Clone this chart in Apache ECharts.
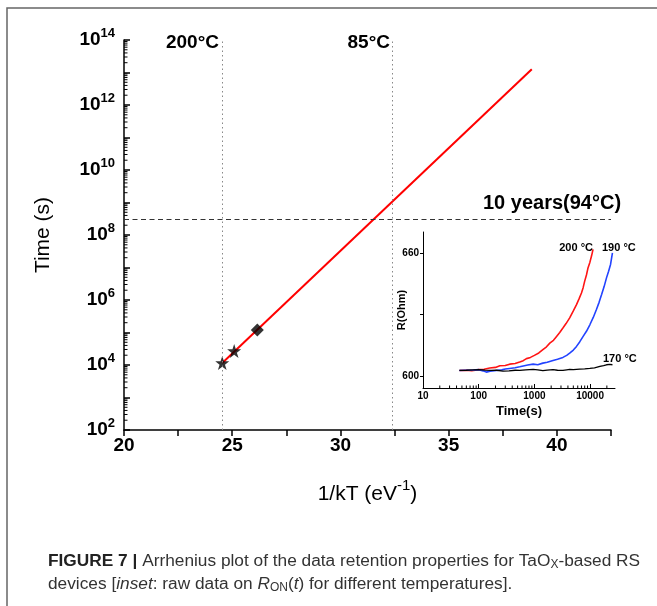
<!DOCTYPE html>
<html>
<head>
<meta charset="utf-8">
<script src="https://cdn.jsdelivr.net/npm/echarts@6/dist/echarts.min.js"></script>
<style>
html,body{margin:0;padding:0;background:#fff;}
#c{width:657px;height:606px;}
</style>
</head>
<body>
<div id="c"></div>
<script>
// ---- main Arrhenius plot data ----
const invKT = [24.54, 25.09, 26.16];          // 1/kT (eV^-1) of measured points
const retentionTime = [1.15e4, 2.7e4, 1.2e5];  // time (s)
const pointShapes = ['star', 'star', 'diamond'];
const fitInvKT = [24.54, 38.84];
const fitTime = [1.15e4, 1.26e13];
const tempLineX = [24.53, 32.40];              // 200°C, 85°C
const tempLineLabels = ['200°C', '85°C'];
const tenYearsSeconds = 3.15e8;
const xLabelValues = [20, 25, 30, 35, 40];
const yLabelValues = [1e2, 1e4, 1e6, 1e8, 1e10, 1e12, 1e14];
const yMajorTickValues = [1e2,1e3,1e4,1e5,1e6,1e7,1e8,1e9,1e10,1e11,1e12,1e13,1e14];

// ---- inset: R(t) raw data ----
const t200 = [45,60,75,100,125,158,200,240,300,360,450,545,630,720,850,1000,1200,1420,1650,1890,2200,2500,2850,3250,3700,4300,5000,5700,6300,7000,7500,8000,8600,9200,9900,10600,11300];
const r200 = [602.6,602.7,602.5,603.0,603.2,603.8,604.1,604.9,605.0,605.7,606.0,606.7,607.4,608.4,609.0,610.0,611.2,612.8,614.2,616.0,617.4,619.3,621.2,623.4,625.6,628.4,631.8,634.9,637.6,640.6,643.2,646.4,649.4,653.0,655.6,658.7,662.0];
const t190 = [45,60,80,100,120,137,160,208,260,300,360,450,545,630,760,950,1150,1420,1700,2160,2600,3250,3800,4300,5000,5700,6500,7500,8600,9900,11400,13000,14500,16100,17800,19700,21500,23300,25200];
const r190 = [602.6,602.7,602.8,603.0,602.4,601.8,602.2,602.6,602.9,603.3,603.6,603.9,604.4,604.8,605.3,605.7,605.4,606.2,606.6,607.5,608.1,609.0,610.0,611.1,612.6,614.4,616.6,619.3,621.8,625.0,628.6,632.5,636.0,639.8,643.6,648.0,651.3,654.6,660.3];
const t170 = [45,60,80,100,130,170,210,273,350,450,545,700,950,1150,1420,1700,2160,2600,3250,3800,4300,5000,6500,8000,9900,12000,15000,17500,19700,22500,25200];
const r170 = [602.6,602.7,602.9,603.0,602.8,602.6,602.7,602.3,602.4,602.7,602.6,602.9,603.1,602.9,602.5,602.8,603.0,602.7,602.6,602.9,603.1,603.0,603.3,603.4,603.6,603.9,604.6,605.0,605.4,605.6,605.4];
const insetSeriesNames = ['200 °C', '190 °C', '170 °C'];
const insetXLabelValues = [10, 100, 1000, 10000];
const insetYLabelValues = [600, 660];
const insetYTickValues = [600, 630, 660];

const FF = '"Liberation Sans", Arial, Helvetica, sans-serif';
const zip = (a, b) => a.map((v, i) => [v, b[i]]);

// minor log ticks (2..9 × decade)
const yMinorTicks = [];
for (let e = 2; e < 14; e++) for (let k = 2; k <= 9; k++) yMinorTicks.push([20, k * Math.pow(10, e)]);
const insetXMinorTicks = [];
for (let e = 1; e <= 4; e++) for (let k = 2; k <= 9; k++) { const v = k * Math.pow(10, e); if (v <= 28000) insetXMinorTicks.push([v, 594]); }

function tickRenderer(dx, dy, len) {
  return function (params, api) {
    const p = api.coord([api.value(0), api.value(1)]);
    return { type: 'line', shape: { x1: p[0], y1: p[1], x2: p[0] + dx * len, y2: p[1] + dy * len },
             style: { stroke: '#000', lineWidth: 1 } };
  };
}

const starPath = 'path://M50,0 L61.8,35.1 L98.9,35.1 L68.9,56.9 L80.3,92.1 L50,70.4 L19.7,92.1 L31.1,56.9 L1.1,35.1 L38.2,35.1 Z';

const chart = echarts.init(document.getElementById('c'), null, { renderer: 'canvas' });

const option = {
  backgroundColor: '#fff',
  animation: false,
  grid: [
    { left: 124, top: 40, right: 46, bottom: 176 },
    { left: 423, top: 232, right: 42, bottom: 218 }
  ],
  xAxis: [
    {
      type: 'value', gridIndex: 0, min: 20, max: 42.5, interval: 2.5,
      name: '{n|1/kT (eV}{s|-1}{n|)}', nameLocation: 'middle', nameGap: 48, nameMoveOverlap: false,
      nameTextStyle: { fontFamily: FF, fontSize: 21, color: '#000',
        rich: {
          n: { fontFamily: FF, fontSize: 21, color: '#000', lineHeight: 32 },
          s: { fontFamily: FF, fontSize: 15, verticalAlign: 'top', lineHeight: 14, color: '#000' } } },
      axisLine: { lineStyle: { color: '#000', width: 1.5 } },
      axisTick: { length: 6, lineStyle: { color: '#000', width: 1.5 } },
      splitLine: { show: false },
      axisLabel: { customValues: xLabelValues, margin: 6, fontFamily: FF, fontSize: 19, fontWeight: 'bold', color: '#000' }
    },
    {
      type: 'log', gridIndex: 1, min: 10, max: 28000, logBase: 10,
      name: 'Time(s)', nameLocation: 'middle', nameGap: 17, nameMoveOverlap: false,
      nameTextStyle: { fontFamily: FF, fontSize: 13, fontWeight: 'bold', color: '#000' },
      axisLine: { lineStyle: { color: '#000', width: 1 } },
      axisTick: { inside: true, length: 4, customValues: insetXLabelValues, lineStyle: { color: '#000' } },
      splitLine: { show: false }, minorTick: { show: false }, minorSplitLine: { show: false },
      axisLabel: { customValues: insetXLabelValues, margin: 3, fontFamily: FF, fontSize: 10, fontWeight: 'bold', color: '#000',
        formatter: v => String(Math.round(v)) }
    }
  ],
  yAxis: [
    {
      type: 'log', gridIndex: 0, min: 1e2, max: 1e14, logBase: 10,
      name: 'Time (s)', nameLocation: 'middle', nameGap: 70, nameRotate: 90, nameMoveOverlap: false,
      nameTextStyle: { fontFamily: FF, fontSize: 21, color: '#000' },
      axisLine: { lineStyle: { color: '#000', width: 1.5 } },
      axisTick: { inside: true, length: 6, customValues: yMajorTickValues, lineStyle: { color: '#000', width: 1.5 } },
      splitLine: { show: false }, minorTick: { show: false },
      axisLabel: {
        customValues: yLabelValues, margin: 9,
        formatter: v => '{b|10}{s|' + Math.round(Math.log10(v)) + '}',
        rich: {
          b: { fontFamily: FF, fontSize: 19, fontWeight: 'bold', color: '#000', lineHeight: 27 },
          s: { fontFamily: FF, fontSize: 13, fontWeight: 'bold', color: '#000', verticalAlign: 'top', lineHeight: 12 }
        }
      }
    },
    {
      type: 'value', gridIndex: 1, min: 594, max: 670.5,
      name: 'R(Ohm)', nameLocation: 'middle', nameGap: 16, nameRotate: 90, nameMoveOverlap: false,
      nameTextStyle: { fontFamily: FF, fontSize: 11, fontWeight: 'bold', color: '#000' },
      axisLine: { show: true, lineStyle: { color: '#000', width: 1 } },
      axisTick: { show: true, length: 3, customValues: insetYTickValues, lineStyle: { color: '#000' } },
      splitLine: { show: false },
      axisLabel: { customValues: insetYLabelValues, margin: 4, fontFamily: FF, fontSize: 10, fontWeight: 'bold', color: '#000' }
    }
  ],
  series: [
    {
      type: 'line', xAxisIndex: 0, yAxisIndex: 0, z: 2,
      data: zip(fitInvKT, fitTime), symbol: 'none',
      lineStyle: { color: '#ff0000', width: 2 },
      markLine: {
        silent: true, symbol: 'none', label: { show: false },
        data: [
          { xAxis: tempLineX[0], lineStyle: { type: [1.5, 3], color: '#888', width: 1 } },
          { xAxis: tempLineX[1], lineStyle: { type: [1.5, 3], color: '#888', width: 1 } },
          { yAxis: tenYearsSeconds, lineStyle: { type: [5, 3.5], color: '#333', width: 1 } }
        ]
      }
    },
    {
      type: 'scatter', xAxisIndex: 0, yAxisIndex: 0, z: 4,
      data: invKT.map((x, i) => ({
        value: [x, retentionTime[i]],
        symbol: pointShapes[i] === 'star' ? starPath : 'diamond',
        symbolSize: pointShapes[i] === 'star' ? 14 : 13
      })),
      itemStyle: { color: '#000' }
    },
    {
      type: 'custom', xAxisIndex: 0, yAxisIndex: 0, clip: false, silent: true,
      renderItem: tickRenderer(1, 0, 3.5), data: yMinorTicks, encode: { x: 0, y: 1 }
    },
    {
      type: 'line', name: insetSeriesNames[0], xAxisIndex: 1, yAxisIndex: 1,
      data: zip(t200, r200), symbol: 'none', lineStyle: { color: '#ff1414', width: 1.6 }
    },
    {
      type: 'line', name: insetSeriesNames[1], xAxisIndex: 1, yAxisIndex: 1,
      data: zip(t190, r190), symbol: 'none', lineStyle: { color: '#2243ff', width: 1.6 }
    },
    {
      type: 'line', name: insetSeriesNames[2], xAxisIndex: 1, yAxisIndex: 1,
      data: zip(t170, r170), symbol: 'none', lineStyle: { color: '#000', width: 1.3 }
    },
    {
      type: 'custom', xAxisIndex: 1, yAxisIndex: 1, clip: false, silent: true,
      renderItem: tickRenderer(0, -1, 2.5), data: insetXMinorTicks, encode: { x: 0, y: 1 }
    }
  ],
  graphic: [
    { type: 'polyline', shape: { points: [[7, 606], [7, 8], [657, 8]] }, style: { stroke: '#666', lineWidth: 1.5, fill: null } },
    { type: 'text', x: 219, y: 43, style: { text: tempLineLabels[0], align: 'right', verticalAlign: 'middle', font: 'bold 19px ' + FF, fill: '#000' } },
    { type: 'text', x: 390, y: 43, style: { text: tempLineLabels[1], align: 'right', verticalAlign: 'middle', font: 'bold 19px ' + FF, fill: '#000' } },
    { type: 'text', x: 483, y: 203, style: { text: '10 years(94°C)', align: 'left', verticalAlign: 'middle', font: 'bold 20px ' + FF, fill: '#000' } },
    { type: 'text', x: 593, y: 248, style: { text: insetSeriesNames[0], align: 'right', verticalAlign: 'middle', font: 'bold 11px ' + FF, fill: '#000' } },
    { type: 'text', x: 602, y: 248, style: { text: insetSeriesNames[1], align: 'left', verticalAlign: 'middle', font: 'bold 11px ' + FF, fill: '#000' } },
    { type: 'text', x: 603, y: 359, style: { text: insetSeriesNames[2], align: 'left', verticalAlign: 'middle', font: 'bold 11px ' + FF, fill: '#000' } },
    { type: 'text', x: 48, y: 561, style: {
        text: '{b|FIGURE 7 |}{n| Arrhenius plot of the data retention properties for TaO}{sub|X}{n|-based RS}',
        verticalAlign: 'middle',
        rich: {
          b: { fontFamily: FF, fontSize: 17.3, fontWeight: 'bold', fill: '#222', lineHeight: 20 },
          n: { fontFamily: FF, fontSize: 17.3, fill: '#333', lineHeight: 20 },
          sub: { fontFamily: FF, fontSize: 12, fill: '#333', verticalAlign: 'bottom', lineHeight: 12 }
        } } },
    { type: 'text', x: 48, y: 584, style: {
        text: '{n|devices [}{i|inset}{n|: raw data on }{i|R}{sub|ON}{n|(}{i|t}{n|) for different temperatures].}',
        verticalAlign: 'middle',
        rich: {
          n: { fontFamily: FF, fontSize: 17.3, fill: '#333', lineHeight: 20 },
          i: { fontFamily: FF, fontSize: 17.3, fontStyle: 'italic', fill: '#333', lineHeight: 20 },
          sub: { fontFamily: FF, fontSize: 12, fill: '#333', verticalAlign: 'bottom', lineHeight: 12 }
        } } }
  ]
};
chart.setOption(option);
</script>
</body>
</html>
